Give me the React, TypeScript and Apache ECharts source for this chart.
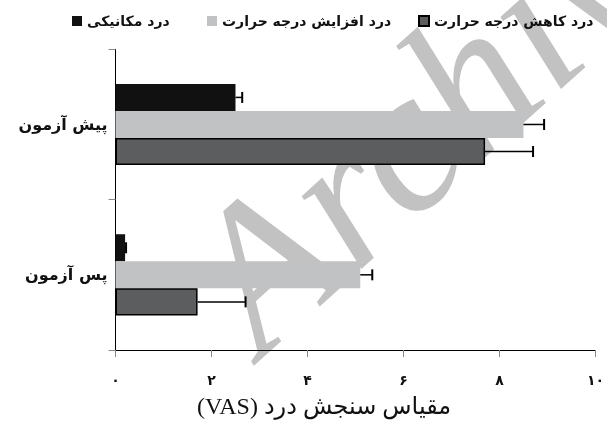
import React, { useEffect, useRef } from 'react';
import * as echarts from 'echarts';

const categories = ['پیش آزمون', 'پس آزمون'];
const seriesNames = ['درد مکانیکی', 'درد افزایش درجه حرارت', 'درد کاهش درجه حرارت'];
const mechanical = [2.5, 0.2];
const mechanicalErr = [0.14, 0.02];
const heatIncrease = [8.5, 5.1];
const heatIncreaseErr = [0.43, 0.25];
const heatDecrease = [7.7, 1.71];
const heatDecreaseErr = [1.0, 1.0];
const xTickLabels = ['۰', '۲', '۴', '۶', '۸', '۱۰'];
const xAxisTitle = 'مقیاس سنجش درد (VAS)';
const watermarkText = 'Archive of SID';

const colors = ['#111111', '#c1c2c4', '#5c5d5f'];
const CAT_GAP = 0.46;

export default function App() {
  const ref = useRef<HTMLDivElement>(null);
  useEffect(() => {
    if (!ref.current) return;
    const chart = echarts.init(ref.current, undefined, { renderer: 'svg' });
    const values = [mechanical, heatIncrease, heatDecrease];
    const errs = [mechanicalErr, heatIncreaseErr, heatDecreaseErr];

    const barSeries = seriesNames.map((name, k) => ({
      name,
      type: 'bar',
      data: values[k],
      barGap: '0%',
      barCategoryGap: CAT_GAP * 100 + '%',
      itemStyle: k === 2
        ? { color: colors[k], borderColor: '#000', borderWidth: 1.5 }
        : { color: colors[k] },
      z: 2,
    }));

    const errSeries = seriesNames.map((name, k) => ({
      name: name + ' err',
      type: 'custom',
      z: 3,
      silent: true,
      encode: { x: 1, y: 0 },
      data: categories.map((_, i) => [i, values[k][i], errs[k][i]]),
      renderItem: (params: any, api: any) => {
        const cat = api.value(0);
        const v = api.value(1);
        const e = api.value(2);
        const p0 = api.coord([v, cat]);
        const p1 = api.coord([v + e, cat]);
        const band = api.size([0, 1])[1];
        const bw = (band * (1 - CAT_GAP)) / 3;
        const y = p0[1] - 1.5 * bw + (k + 0.5) * bw;
        return {
          type: 'group',
          children: [
            { type: 'line', shape: { x1: p0[0], y1: y, x2: p1[0], y2: y }, style: { stroke: '#000', lineWidth: 1.5 } },
            { type: 'line', shape: { x1: p1[0], y1: y - 5.5, x2: p1[0], y2: y + 5.5 }, style: { stroke: '#000', lineWidth: 2 } },
          ],
        };
      },
    }));

    const legendLefts = [72, 207, 418];
    const legendFont = { fontFamily: 'DejaVu Sans', fontWeight: 'bold', fontSize: 14, color: '#111' };
    const fs = 205;
    const theta = (42 * Math.PI) / 180;

    chart.setOption({
      animation: false,
      legend: seriesNames.map((n, k) => ({
        data: [n],
        left: legendLefts[k],
        top: 14,
        padding: 0,
        icon: 'rect',
        itemWidth: 10,
        itemHeight: 10,
        itemGap: 5,
        selectedMode: false,
        textStyle: legendFont,
      })),
      grid: { left: 115.5, right: 8.5, top: 49.3, bottom: 72 },
      xAxis: {
        type: 'value',
        min: 0,
        max: 10,
        interval: 2,
        splitLine: { show: false },
        axisLine: { show: true, lineStyle: { color: '#000', width: 1 } },
        axisTick: { show: true, length: 7, lineStyle: { color: '#888' } },
        axisLabel: {
          margin: 23,
          fontFamily: 'DejaVu Sans',
          fontWeight: 'bold',
          fontSize: 14,
          color: '#111',
          formatter: (v: number) => xTickLabels[Math.round(v / 2)],
        },
      },
      yAxis: {
        type: 'category',
        inverse: true,
        data: categories,
        axisLine: { show: true, lineStyle: { color: '#000', width: 1 } },
        axisTick: { show: true, length: 7, lineStyle: { color: '#888' } },
        axisLabel: {
          margin: 8,
          fontFamily: 'DejaVu Sans',
          fontWeight: 'bold',
          fontSize: 16,
          color: '#111',
        },
      },
      graphic: [
        {
          type: 'text',
          left: 197,
          top: 394,
          style: {
            text: '\u202B' + xAxisTitle + '\u202C',
            fontFamily: '"Liberation Serif", "DejaVu Sans", serif',
            fontSize: 24,
            fill: '#111',
          },
        },
        {
          type: 'group',
          x: 262,
          y: 358,
          rotation: theta,
          z: 100,
          silent: true,
          children: [
            {
              type: 'text',
              x: 0,
              y: -0.3375 * fs,
              style: {
                text: watermarkText,
                fontFamily: '"Liberation Serif", serif',
                fontStyle: 'italic',
                fontWeight: 'normal',
                fontSize: fs,
                fill: 'rgba(110,110,110,0.42)',
                textAlign: 'left',
                textVerticalAlign: 'middle',
              },
            },
          ],
        },
      ],
      series: [...barSeries, ...errSeries],
    });
    return () => chart.dispose();
  }, []);
  return <div ref={ref} style={{ position: 'fixed', left: 0, top: 0, width: 607, height: 422 }} />;
}
